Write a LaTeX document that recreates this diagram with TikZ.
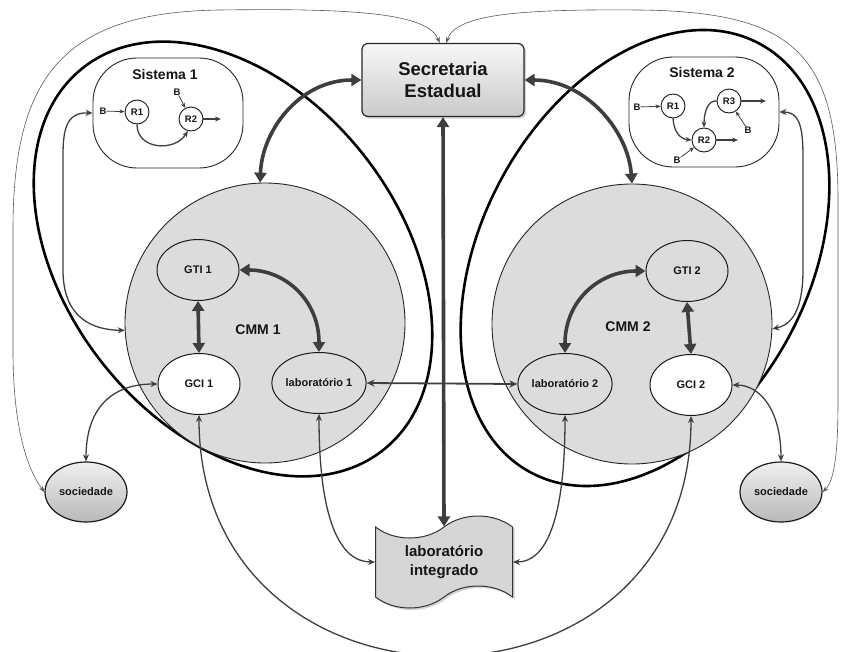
\documentclass[tikz,border=0pt]{standalone}
\usepackage{fontspec}
\setmainfont{Liberation Sans}
\usetikzlibrary{arrows.meta,shapes.geometric,shapes.symbols,shadows,calc}
\definecolor{arr}{HTML}{3E3E3E}
\definecolor{cmmgray}{HTML}{DCDCDC}
\definecolor{txt}{HTML}{151515}
\begin{document}
\begin{tikzpicture}[x=1pt,y=-1pt,
  font=\bfseries, text=txt,
  bigell/.style={draw=black, line width=2.6pt},
  thickarr/.style={draw=arr, line width=3.6pt, {Triangle[length=10pt,width=12pt]}-{Triangle[length=10pt,width=12pt]}},
  midarr/.style={draw=arr, line width=1.8pt, {Stealth[length=8pt,width=7pt]}-{Stealth[length=8pt,width=7pt]}},
  thinarr/.style={draw=arr, line width=1.3pt, {Stealth[length=7pt,width=6pt]}-{Stealth[length=7pt,width=6pt]}},
  hairarr/.style={draw=black!65, line width=0.6pt, {Stealth[length=6pt,width=4.5pt]}-{Stealth[length=6pt,width=4.5pt]}},
  smallarr/.style={draw=arr, line width=0.8pt, -{Stealth[length=5pt,width=4pt]}},
  outarr/.style={draw=arr, line width=1.3pt, -{Stealth[length=6pt,width=5pt]}},
  secbox/.style={rectangle, rounded corners=6pt, draw=black!85, line width=1.2pt, minimum width=162pt, minimum height=73pt, top color=gray!6, bottom color=gray!42, drop shadow={shadow xshift=2pt, shadow yshift=-2pt, opacity=0.35}, align=center, font=\bfseries\fontsize{18.5}{22}\selectfont},
  sisbox/.style={rectangle, rounded corners=44pt, draw=black!85, line width=0.9pt, fill=white, minimum width=150pt, minimum height=110pt},
  sistitle/.style={font=\bfseries\fontsize{14}{16}\selectfont},
  cmm/.style={circle, draw=black!85, line width=0.9pt, fill=cmmgray, minimum size=280pt, inner sep=0pt},
  cmmtitle/.style={font=\bfseries\fontsize{14}{16}\selectfont},
  inell/.style={ellipse, draw=black!90, line width=1pt, minimum width=82pt, minimum height=61pt, inner sep=0pt, font=\bfseries\fontsize{11}{13}\selectfont},
  soc/.style={ellipse, draw=black!90, line width=1.2pt, minimum width=82pt, minimum height=60pt, inner sep=0pt, top color=gray!12, bottom color=gray!55, font=\bfseries\fontsize{11}{13}\selectfont},
  rc/.style={circle, draw=black!90, line width=0.9pt, fill=white, minimum size=24pt, inner sep=0pt, font=\bfseries\fontsize{9.5}{10}\selectfont},
  bl/.style={inner sep=0pt, font=\bfseries\fontsize{9.5}{10}\selectfont},
  labbox/.style={tape, draw=black!80, line width=1pt, fill=gray!32, minimum width=137pt, minimum height=92pt, tape bend height=22pt, drop shadow={shadow xshift=2pt, shadow yshift=-2pt, opacity=0.35}, align=center, font=\bfseries\fontsize{15}{19}\selectfont}
]
\useasboundingbox (0,0) rectangle (841,651);

% big thick ellipses
\draw[bigell] (233,259) circle [x radius=243, y radius=167, rotate=-52];
\draw[bigell] (645,258) circle [x radius=243, y radius=164, rotate=62];

% nodes
\node[secbox] (sec) at (443,80) {Secretaria\\Estadual};
\node[sisbox] (sis1) at (168,113) {};
\node[sistitle] (sis1t) at (165,74) {Sistema 1};
\node[sisbox] (sis2) at (704,112) {};
\node[sistitle] (sis2t) at (702,72) {Sistema 2};

\node[cmm] (cmm1) at (265,323) {};
\node[cmm] (cmm2) at (632,324) {};
\node[cmmtitle] (cmm1t) at (258,330) {CMM 1};
\node[cmmtitle] (cmm2t) at (628,327) {CMM 2};

\node[inell, fill=cmmgray] (gti1) at (198,270) {GTI 1};
\node[inell, fill=white] (gci1) at (199,384) {GCI 1};
\node[inell, fill=cmmgray] (lab1) at (319,383) {laboratório 1};
\node[inell, fill=cmmgray] (gti2) at (687,271) {GTI 2};
\node[inell, fill=white] (gci2) at (691,385) {GCI 2};
\node[inell, fill=cmmgray] (lab2) at (565,384) {laboratório 2};

\node[soc] (soc1) at (86,492) {sociedade};
\node[soc] (soc2) at (781,492) {sociedade};

\node[labbox] (labint) at (444,562) {laboratório\\integrado};

% Sistema 1 contents
\node[rc] (s1r1) at (137,112) {R1};
\node[rc] (s1r2) at (191,119) {R2};
\node[bl] (s1b1) at (103,111) {B};
\node[bl] (s1b2) at (177,92) {B};
\coordinate (s1o) at (221,119);
\draw[smallarr] (s1b1) -- (s1r1);
\draw[smallarr] (s1b2) -- (s1r2);
\draw[outarr] (s1r2) -- (s1o);
\draw[outarr] (s1r1.south) .. controls (137,150) and (175,152) .. (s1r2.-105);

% Sistema 2 contents
\node[rc] (s2r1) at (673,106) {R1};
\node[rc] (s2r3) at (729,101) {R3};
\node[rc] (s2r2) at (704,140) {R2};
\node[bl] (s2b1) at (637,107) {B};
\node[bl] (s2b3) at (748,130) {B};
\node[bl] (s2b2) at (677,160) {B};
\coordinate (s2o3) at (766,101);
\coordinate (s2o2) at (738,140);
\draw[smallarr] (s2b1) -- (s2r1);
\draw[smallarr] (s2b3) -- (s2r3);
\draw[smallarr] (s2b2) -- (s2r2);
\draw[outarr] (s2r3) -- (s2o3);
\draw[outarr] (s2r2) -- (s2o2);
\draw[outarr] (s2r1.south) .. controls (674,132) and (680,139) .. (s2r2.west);
\draw[outarr] (s2r3.west) .. controls (708,100) and (704,112) .. (s2r2.north);

% thick connectors
\draw[thickarr] (sec.west) .. controls (300,80) and (262,130) .. (cmm1.92);
\draw[thickarr] (sec.east) .. controls (585,80) and (628,130) .. (cmm2.90);
\draw[thickarr] (sec.south) -- (labint.north);
\draw[thickarr] (gti1.south) -- (gci1.north);
\draw[thickarr] (gti2.south) -- (gci2.north);
\draw[thickarr] (gti1.east) .. controls (285,270) and (319,300) .. (lab1.north);
\draw[thickarr] (gti2.west) .. controls (600,271) and (565,300) .. (lab2.north);

% medium
\draw[midarr] (lab1.east) -- (lab2.west);

% thin connectors
\draw[thinarr] (sis1.west) .. controls (60,112) and (63,140) .. (63,180) -- (63,270) .. controls (63,320) and (95,330) .. (cmm1.183);
\draw[thinarr] (sis2.east) .. controls (805,112) and (803,140) .. (803,180) -- (803,270) .. controls (803,320) and (785,326) .. (cmm2.-2);
\draw[thinarr] (gci1.west) .. controls (110,384) and (86,410) .. (soc1.north);
\draw[thinarr] (gci2.east) .. controls (760,385) and (781,410) .. (soc2.north);
\draw[thinarr] (lab1.south) .. controls (319,520) and (340,562) .. (labint.west);
\draw[thinarr] (lab2.south) .. controls (565,520) and (546,562) .. (labint.east);
\draw[thinarr] (gci1.south) .. controls (199,735) and (691,735) .. (gci2.south);

% outer hairline connectors
\draw[hairarr] (soc1.west) .. controls (28,470) and (13,430) .. (13,350) -- (13,230) .. controls (13,80) and (60,12) .. (220,10) .. controls (360,8) and (428,14) .. (sec.95);
\draw[hairarr] (sec.85) .. controls (456,14) and (520,9) .. (640,10) .. controls (790,12) and (838,50) .. (838,200) -- (838,400) .. controls (838,450) and (835,480) .. (soc2.east);
\end{tikzpicture}
\end{document}
